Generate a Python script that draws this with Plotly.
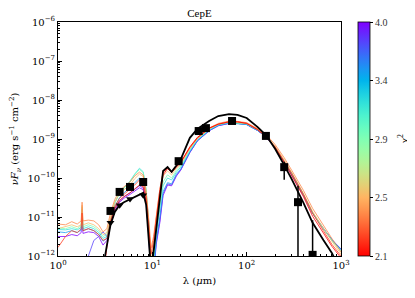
import math
import plotly.graph_objects as go

# ---------------- data ----------------
wavelength = [1.0, 1.2, 1.4, 1.6, 1.76, 1.8, 1.84, 2.1, 2.4, 2.7,
              3.0, 3.3, 3.6, 4.0, 4.5, 5.0, 5.8, 6.5, 7.3, 8.0,
              8.6, 9.2, 9.7, 10.3, 11, 12, 13, 14.5, 16, 18,
              20, 25, 30, 40, 50, 65, 80, 100, 130, 160,
              200, 250, 300, 400, 500, 650, 800, 1000]

# log10(nuF_nu) of the best-fit model
best_fit_log = [-13, -13, -13, -13, -13, -13, -13, -13, -13, -13,
                -12.3, -11.67, -11.2, -10.87, -10.69, -10.62, -10.54, -10.49, -10.43, -10.38,
                -10.69, -11.59, -12.4, -11.9, -11.33, -10.5, -9.82, -9.72, -9.84, -9.68,
                -9.52, -8.97, -8.74, -8.54, -8.41, -8.36, -8.38, -8.46, -8.69, -8.90,
                -9.25, -9.67, -10.03, -10.64, -11.15, -11.59, -11.92, -12.4]

model_chi2 = [4.0, 3.8, 3.5, 3.2, 2.9, 2.5, 2.35, 2.2, 2.1]
model_logs = [
    [-11.5, -11.5, -11.45, -11.48, -11.4, -10.95, -11.42, -11.38, -11.4, -11.5,
     -11.72, -11.6, -11.2, -10.85, -10.62, -10.52, -10.42, -10.33, -10.25, -10.3,
     -10.65, -11.55, -12.7, -12.5, -11.7, -11.15, -10.45, -10.18, -10.2, -9.95,
     -9.8, -9.35, -9.05, -8.79, -8.66, -8.6, -8.6, -8.63, -8.78, -8.94,
     -9.22, -9.58, -9.9, -10.44, -10.9, -11.3, -11.58, -11.82],
    [-13, -13, -13, -13, -13, -13, -13, -12.0, -11.6, -11.5,
     -11.38, -11.5, -11.15, -10.8, -10.58, -10.48, -10.38, -10.28, -10.2, -10.26,
     -10.6, -11.5, -12.6, -12.45, -11.65, -11.1, -10.4, -10.15, -10.18, -9.93,
     -9.79, -9.34, -9.05, -8.79, -8.66, -8.6, -8.6, -8.63, -8.78, -8.94,
     -9.22, -9.58, -9.9, -10.44, -10.9, -11.3, -11.59, -11.84],
    [-11.38, -11.4, -11.35, -11.4, -11.33, -10.88, -11.35, -11.3, -11.35, -11.45,
     -11.62, -11.55, -11.15, -10.75, -10.5, -10.38, -10.25, -10.12, -10.0, -10.06,
     -10.45, -11.35, -12.6, -12.4, -11.6, -11.0, -10.35, -10.12, -10.15, -9.9,
     -9.77, -9.33, -9.04, -8.78, -8.65, -8.59, -8.6, -8.63, -8.78, -8.94,
     -9.22, -9.57, -9.89, -10.43, -10.9, -11.3, -11.58, -11.83],
    [-11.32, -11.33, -11.3, -11.33, -11.27, -10.8, -11.3, -11.25, -11.3, -11.4,
     -11.55, -11.5, -11.1, -10.65, -10.38, -10.25, -10.08, -9.9, -9.75, -9.84,
     -10.3, -11.25, -12.5, -12.2, -11.45, -10.8, -10.2, -10.0, -10.05, -9.85,
     -9.72, -9.3, -9.02, -8.77, -8.64, -8.58, -8.59, -8.62, -8.77, -8.93,
     -9.21, -9.56, -9.88, -10.42, -10.9, -11.3, -11.6, -11.86],
    [-11.28, -11.3, -11.25, -11.3, -11.22, -10.75, -11.25, -11.2, -11.25, -11.35,
     -11.5, -11.45, -11.05, -10.62, -10.38, -10.26, -10.1, -9.92, -9.78, -9.86,
     -10.3, -11.2, -12.3, -11.95, -11.3, -10.7, -10.1, -9.92, -10.0, -9.8,
     -9.68, -9.27, -9.0, -8.75, -8.63, -8.57, -8.58, -8.61, -8.76, -8.92,
     -9.2, -9.55, -9.87, -10.41, -10.88, -11.3, -11.6, -11.88],
    [-11.3, -11.25, -11.2, -11.25, -11.2, -10.7, -11.2, -11.15, -11.2, -11.3,
     -11.45, -11.4, -11.0, -10.62, -10.4, -10.3, -10.18, -10.02, -9.9, -9.96,
     -10.4, -11.2, -12.1, -11.7, -11.05, -10.45, -9.95, -9.82, -9.92, -9.75,
     -9.65, -9.25, -8.99, -8.74, -8.62, -8.56, -8.57, -8.6, -8.75, -8.91,
     -9.18, -9.53, -9.86, -10.4, -10.86, -11.3, -11.62, -11.95],
    [-11.18, -11.2, -11.12, -11.18, -11.1, -10.62, -11.1, -11.08, -11.1, -11.2,
     -11.38, -11.3, -10.9, -10.55, -10.32, -10.22, -10.1, -9.95, -9.85, -9.92,
     -10.35, -11.1, -11.8, -11.5, -10.95, -10.3, -9.85, -9.74, -9.85, -9.68,
     -9.6, -9.22, -8.96, -8.72, -8.6, -8.54, -8.55, -8.58, -8.73, -8.88,
     -9.14, -9.48, -9.8, -10.32, -10.78, -11.22, -11.55, -11.9],
    [-11.78, -11.5, -11.35, -11.4, -11.3, -10.9, -11.35, -11.3, -11.35, -11.45,
     -11.6, -11.55, -11.1, -10.72, -10.52, -10.42, -10.3, -10.18, -10.05, -10.1,
     -10.5, -11.3, -11.95, -11.6, -11.0, -10.3, -9.85, -9.75, -9.86, -9.7,
     -9.6, -9.22, -8.98, -8.73, -8.62, -8.56, -8.56, -8.6, -8.75, -8.93,
     -9.2, -9.56, -9.88, -10.42, -10.9, -11.35, -11.7, -12.0],
    [-13, -13, -13, -13, -13, -13, -13, -13, -13, -13,
     -12.6, -11.75, -11.15, -10.78, -10.58, -10.48, -10.38, -10.28, -10.18, -10.22,
     -10.6, -11.45, -12.2, -11.85, -11.15, -10.4, -9.92, -9.76, -9.86, -9.72,
     -9.6, -9.2, -8.96, -8.72, -8.62, -8.56, -8.56, -8.6, -8.76, -8.94,
     -9.22, -9.6, -9.93, -10.48, -10.98, -11.42, -11.75, -12.05],
]

obs_wavelength = [3.6, 4.5, 5.8, 8.0, 19, 31, 37, 70, 160, 250, 350, 500]
obs_flux = [1.43e-11, 4.4e-11, 5.9e-11, 7.9e-11, 2.7e-10, 1.6e-9, 1.9e-9,
            2.9e-9, 1.2e-9, 1.9e-10, 2.4e-11, 1.07e-12]
obs_err_up = [0, 0, 0, 0, 0, 0, 0, 0, 0, 0.7e-10, 3.9e-11, 7.2e-12]
obs_err_down = [0, 0, 0, 0, 0, 0, 0, 0, 0, 1.0e-10, 2.39e-11, 1.06e-12]

lim_wavelength = [3.6, 4.5, 5.8, 8.0]
lim_flux = [7.1e-12, 2.0e-11, 2.9e-11, 3.6e-11]

chi2_min, chi2_max = 2.1, 4.0
cbar_tick_labels = ["2.1", "2.5", "2.9", "3.4", "4.0"]

x_tick_values = [1, 10, 100, 1000]
x_tick_labels = ["10<sup>0</sup>", "10<sup>1</sup>", "10<sup>2</sup>", "10<sup>3</sup>"]
y_tick_values = [1e-12, 1e-11, 1e-10, 1e-9, 1e-8, 1e-7, 1e-6]
y_tick_labels = ["10<sup>−12</sup>", "10<sup>−11</sup>", "10<sup>−10</sup>", "10<sup>−9</sup>",
                 "10<sup>−8</sup>", "10<sup>−7</sup>", "10<sup>−6</sup>"]


# ---------------- colour map (matplotlib 'rainbow', reversed) ----------------
def rainbow_r(t):
    x = 1.0 - t
    r = min(1.0, abs(2 * x - 0.5))
    g = math.sin(math.pi * x)
    b = math.cos(math.pi / 2 * x)
    return "rgb(%d,%d,%d)" % (round(255 * r), round(255 * max(g, 0)), round(255 * max(b, 0)))


def chi2_to_t(c):
    return (math.log10(c) - math.log10(chi2_min)) / (math.log10(chi2_max) - math.log10(chi2_min))


def minor_positions(lo_exp, hi_exp):
    return [m * 10.0 ** e for e in range(lo_exp, hi_exp) for m in range(2, 10)]


colorscale = [[i / 20, rainbow_r(i / 20)] for i in range(21)]

# page body has an 8px margin: figure is 407x290 so that the plot lands where the reference has it
FIG_W, FIG_H = 407, 290
ML, MR, MT, MB = 50, 74, 14, 42
PLOT_W = FIG_W - ML - MR

fig = go.Figure()

for c, logs in zip(model_chi2, model_logs):
    fig.add_trace(go.Scatter(
        x=wavelength, y=[10 ** v for v in logs], mode="lines",
        line=dict(color=rainbow_r(chi2_to_t(c)), width=0.9),
        opacity=0.85, showlegend=False, hoverinfo="skip"))

fig.add_trace(go.Scatter(
    x=wavelength, y=[10 ** v for v in best_fit_log], mode="lines",
    line=dict(color="black", width=1.8), showlegend=False))

fig.add_trace(go.Scatter(
    x=lim_wavelength, y=lim_flux, mode="markers",
    marker=dict(symbol="triangle-down", size=7, color="black"),
    showlegend=False))

fig.add_trace(go.Scatter(
    x=obs_wavelength, y=obs_flux, mode="markers",
    marker=dict(symbol="square", size=8, color="black"),
    error_y=dict(type="data", symmetric=False, array=obs_err_up,
                 arrayminus=obs_err_down, color="black", thickness=1.5, width=0),
    showlegend=False))

# colour bar
fig.add_trace(go.Scatter(
    x=[None], y=[None], mode="markers",
    marker=dict(color=[0], colorscale=colorscale, cmin=0, cmax=1, showscale=True,
                colorbar=dict(
                    x=(300) / PLOT_W, xanchor="left", xref="paper", y=0.5, yanchor="middle",
                    len=1.0, lenmode="fraction", thickness=12, thicknessmode="pixels",
                    outlinecolor="black", outlinewidth=0.8,
                    tickvals=[0, 0.25, 0.5, 0.75, 1.0], ticktext=cbar_tick_labels,
                    ticks="outside", ticklen=3, tickcolor="black",
                    tickfont=dict(family="Liberation Serif", size=10, color="#333"),
                    xpad=0, ypad=0)),
    showlegend=False, hoverinfo="skip"))

fig.add_annotation(text="χ<sup>2</sup>", textangle=-90, x=345 / PLOT_W, y=0.5,
                   xref="paper", yref="paper", showarrow=False, xanchor="center",
                   yanchor="middle",
                   font=dict(family="Liberation Serif", size=11, color="black"))

axis_common = dict(
    type="log", showgrid=False, zeroline=False, showline=True, linecolor="black",
    linewidth=1, mirror=True, ticks="inside", ticklen=4, tickcolor="black",
    automargin=False,
    tickfont=dict(family="DejaVu Serif", size=10, color="black"),
)

fig.update_xaxes(range=[0, 3], tickmode="array", tickvals=x_tick_values, ticktext=x_tick_labels,
                 minor=dict(tickmode="array", tickvals=minor_positions(0, 3), ticks="inside",
                            ticklen=2, tickcolor="black", showgrid=False),
                 title=dict(text="λ (<i>μ</i>m)", standoff=6,
                            font=dict(family="DejaVu Serif", size=10, color="black")),
                 **axis_common)
fig.update_yaxes(range=[-12, -6], tickmode="array", tickvals=y_tick_values, ticktext=y_tick_labels,
                 minor=dict(tickmode="array", tickvals=minor_positions(-12, -6), ticks="inside",
                            ticklen=2, tickcolor="black", showgrid=False),
                 title=dict(
                     text="<i>νF</i><sub><i>ν</i></sub> (erg s<sup>−1</sup> cm<sup>−2</sup>)",
                     standoff=6, font=dict(family="DejaVu Serif", size=10, color="black")),
                 **axis_common)

fig.update_layout(
    width=FIG_W, height=FIG_H,
    margin=dict(l=ML, r=MR, t=MT, b=MB),
    paper_bgcolor="white", plot_bgcolor="white",
    title=dict(text="CepE", x=0.5, xref="paper", xanchor="center", y=1, yref="paper",
               yanchor="bottom", pad=dict(b=5),
               font=dict(family="Liberation Serif", size=11, color="black")),
    showlegend=False,
)

fig.write_html("out.html")
